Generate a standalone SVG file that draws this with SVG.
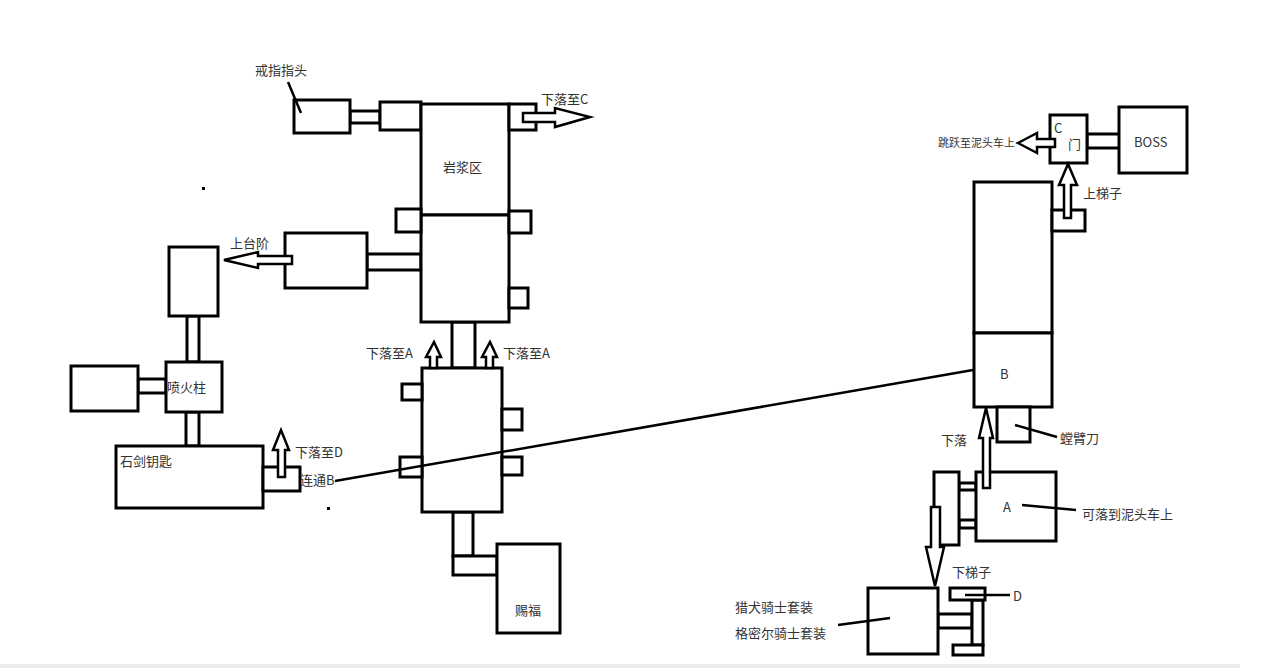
<svg xmlns="http://www.w3.org/2000/svg" width="1265" height="668" viewBox="0 0 1265 668">
<style>
.b{fill:#fff;stroke:#000;stroke-width:3}
.c{fill:#fff;stroke:#000;stroke-width:3}
.a{fill:#fff;stroke:#000;stroke-width:2.5;stroke-linejoin:miter}
.l{fill:none;stroke:#000;stroke-width:2.5}
.t{font-family:"Noto Sans CJK SC","Noto Sans",sans-serif;font-size:13px;fill:#333}
</style>
<rect x="0" y="0" width="1265" height="668" fill="#fff"/>
<rect x="0" y="664" width="1240" height="4" fill="#ececec"/>

<g id="corridors">
<rect class="c" x="350" y="111" width="30" height="12"/>
<rect class="c" x="367" y="254" width="54" height="16"/>
<rect class="c" x="187" y="316" width="12" height="46"/>
<rect class="c" x="138" y="379" width="28" height="14"/>
<rect class="c" x="186" y="412" width="13" height="34"/>
<rect class="c" x="452" y="322" width="23" height="46"/>
<rect class="c" x="453" y="512" width="20" height="44"/>
<rect class="c" x="453" y="556" width="44" height="19"/>
<rect class="c" x="1087" y="134" width="33" height="14"/>
<rect class="c" x="959" y="483" width="17" height="7"/>
<rect class="c" x="959" y="520" width="17" height="8"/>
<rect class="c" x="938" y="614" width="34" height="14"/>
</g>

<g id="n-ring"><rect class="b" x="294" y="100" width="56" height="33"/><text class="t" x="255" y="75">戒指指头</text></g>
<g id="n-ring-link"><rect class="b" x="380" y="102" width="41" height="28"/></g>
<g id="n-magma"><rect class="b" x="421" y="104" width="88" height="111"/><text class="t" x="443" y="172">岩浆区</text></g>
<g id="n-magma2"><rect class="b" x="421" y="215" width="88" height="107"/></g>
<g id="n-magma-stubs">
<rect class="b" x="509" y="104" width="27" height="26"/>
<rect class="b" x="396" y="209" width="25" height="23"/>
<rect class="b" x="509" y="211" width="22" height="22"/>
<rect class="b" x="509" y="288" width="19" height="20"/>
</g>
<g id="n-stairs"><rect class="b" x="285" y="233" width="82" height="55"/></g>
<g id="n-topleft"><rect class="b" x="169" y="247" width="49" height="69"/></g>
<g id="n-fire"><rect class="b" x="166" y="362" width="56" height="50"/><text class="t" x="167" y="392">喷火柱</text></g>
<g id="n-left"><rect class="b" x="71" y="366" width="67" height="45"/></g>
<g id="n-key"><rect class="b" x="116" y="446" width="147" height="62"/><text class="t" x="120" y="466">石剑钥匙</text></g>
<g id="n-key-stub"><rect class="b" x="263" y="467" width="37" height="24"/></g>
<g id="n-center"><rect class="b" x="422" y="368" width="80" height="144"/>
<rect class="b" x="402" y="384" width="20" height="16"/>
<rect class="b" x="400" y="457" width="22" height="20"/>
<rect class="b" x="502" y="409" width="20" height="21"/>
<rect class="b" x="502" y="457" width="20" height="18"/>
</g>
<g id="n-grace"><rect class="b" x="497" y="544" width="63" height="89"/><text class="t" x="515" y="615">赐福</text></g>

<g id="n-boss"><rect class="b" x="1119" y="107" width="68" height="66"/><text class="t" x="1134" y="147">BOSS</text></g>
<g id="n-door"><rect class="b" x="1050" y="115" width="37" height="48"/><text class="t" x="1054" y="133">C</text><text class="t" x="1068" y="149">门</text></g>
<g id="n-bigright"><rect class="b" x="974" y="182" width="78" height="151"/><rect class="b" x="1052" y="210" width="33" height="21"/></g>
<g id="n-b"><rect class="b" x="974" y="333" width="78" height="74"/><text class="t" x="1000" y="379">B</text></g>
<g id="n-mantis"><rect class="b" x="997" y="407" width="33" height="35"/></g>
<g id="n-a"><rect class="b" x="976" y="472" width="80" height="69"/><text class="t" x="1003" y="512">A</text></g>
<g id="n-ladder"><rect class="b" x="934" y="472" width="25" height="73"/></g>
<g id="n-armor"><rect class="b" x="868" y="588" width="70" height="66"/></g>
<g id="n-d">
<rect class="b" x="972" y="600" width="11" height="45"/>
<rect class="b" x="950" y="588" width="35" height="12"/>
<rect class="b" x="953" y="645" width="30" height="10"/>
</g>

<g id="connectors">
<path class="l" d="M288 82 L301 113"/>
<path class="l" d="M335 481 L973 370"/>
<path class="l" d="M1015 425 L1057 437"/>
<path class="l" d="M1022 505 L1076 510"/>
<path class="l" d="M838 625 L890 618"/>
<path class="l" d="M965 595 L1010 595"/>
<polygon class="a" points="523,113 555,113 555,108 590,117 555,127 555,122 523,122"/>
<polygon class="a" points="292,256 258,256 258,252 224,260 258,268 258,264 292,264"/>
<polygon class="a" points="278,477 278,450 273,450 281,430 289,450 285,450 285,477"/>
<polygon class="a" points="430,368 430,357 426,357 434,342 441,357 437,357 437,368"/>
<polygon class="a" points="486,368 486,357 482,357 490,342 497,357 493,357 493,368"/>
<polygon class="a" points="1055,139 1037,139 1037,133 1018,143 1037,153 1037,147 1055,147"/>
<polygon class="a" points="1064,218 1064,185 1059,185 1068,164 1077,185 1071,185 1071,218"/>
<polygon class="a" points="983,488 983,438 979,438 986,408 993,438 990,438 990,488"/>
<polygon class="a" points="931,507 931,547 926,547 935,586 944,547 940,547 940,507"/>
</g>

<g id="labels">
<text class="t" x="541" y="104">下落至C</text>
<text class="t" x="230" y="248">上台阶</text>
<text class="t" x="366" y="358">下落至A</text>
<text class="t" x="503" y="358">下落至A</text>
<text class="t" x="295" y="457">下落至D</text>
<text class="t" x="300" y="485">连通B</text>
<text class="t" x="1015" y="147" text-anchor="end" style="font-size:11px">跳跃至泥头车上</text>
<text class="t" x="1083" y="198">上梯子</text>
<text class="t" x="1060" y="443">螳臂刀</text>
<text class="t" x="941" y="445">下落</text>
<text class="t" x="1082" y="519">可落到泥头车上</text>
<text class="t" x="952" y="577">下梯子</text>
<text class="t" x="1013" y="601">D</text>
<text class="t" x="735" y="612">猎犬骑士套装</text>
<text class="t" x="735" y="638">格密尔骑士套装</text>
</g>
<rect x="202" y="187" width="3" height="3" fill="#000"/>
<rect x="327" y="507" width="3" height="3" fill="#000"/>
</svg>
